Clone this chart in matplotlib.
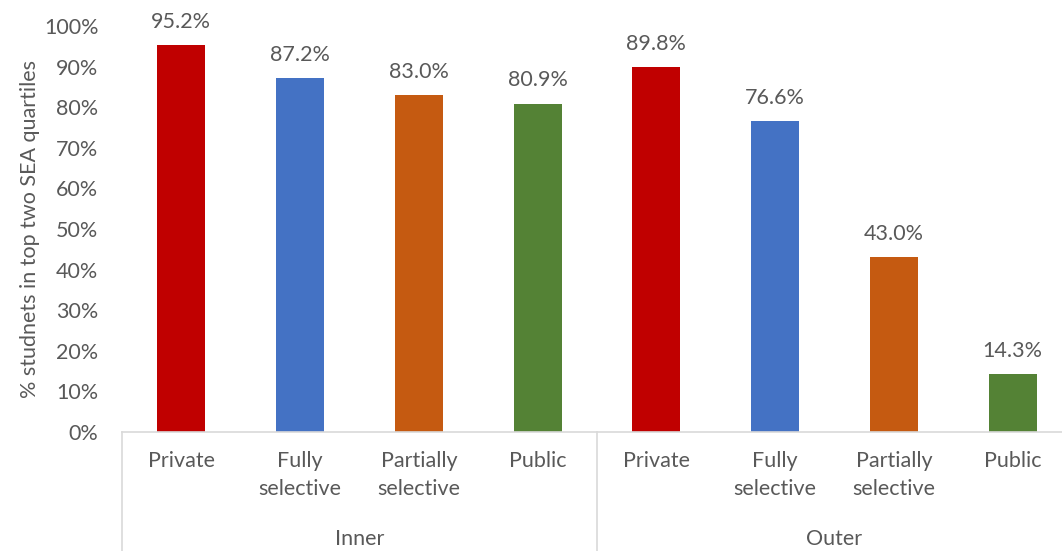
import matplotlib
matplotlib.use("Agg")
import matplotlib.pyplot as plt
from matplotlib.lines import Line2D

# data
groups = ["Inner", "Outer"]
school_types = ["Private", "Fully\nselective", "Partially\nselective", "Public"]
inner_vals = [95.2, 87.2, 83.0, 80.9]
outer_vals = [89.8, 76.6, 43.0, 14.3]
bar_colors = ["#C00000", "#4472C4", "#C55A11", "#548235"]

plt.rcParams["font.family"] = ["Lato", "DejaVu Sans"]
txt = "#595959"
fs = 15.5

W, H = 1062, 551
fig = plt.figure(figsize=(W / 100, H / 100), dpi=100)
# plot area in pixels: left 122, right 1072 (runs past the edge), top 26, bottom 432
ax = fig.add_axes([122 / W, (H - 432) / H, (1072 - 122) / W, (432 - 26) / H])

vals = inner_vals + outer_vals
cols = bar_colors * 2
xs = list(range(len(vals)))
ax.bar(xs, [v / 100 for v in vals], width=0.405, color=cols, zorder=2)
for x, v in zip(xs, vals):
    ax.text(x, v / 100 + 0.033, "%.1f%%" % v, ha="center", va="bottom",
            fontsize=fs, color=txt)

ax.set_xlim(-0.5, 7.5)
ax.set_ylim(0, 1.0)
ax.set_yticks([i / 10 for i in range(11)])
ax.set_yticklabels(["%d%%" % (i * 10) for i in range(11)])
ax.tick_params(axis="y", length=0, labelsize=fs, labelcolor=txt, pad=17)
ax.set_xticks([])
for s in ["top", "right", "left"]:
    ax.spines[s].set_visible(False)
ax.spines["bottom"].set_color("#D9D9D9")
ax.spines["bottom"].set_linewidth(1.2)

ax.set_ylabel("% studnets in top two SEA quartiles", fontsize=fs, color=txt,
              labelpad=3)

# two level category axis
trans = ax.get_xaxis_transform()
for g in range(len(groups)):
    for i, name in enumerate(school_types):
        ax.text(g * 4 + i, -0.048, name, transform=trans, ha="center", va="top",
                fontsize=fs, color=txt, linespacing=1.5)
    ax.text(g * 4 + 1.5, -0.24, groups[g], transform=trans, ha="center",
            va="top", fontsize=fs, color=txt)
for xb in [-0.5, 3.5, 7.5]:
    ax.add_line(Line2D([xb, xb], [0, -0.3], transform=trans, color="#D9D9D9",
                       lw=1.2, clip_on=False))

fig.savefig("out.png", dpi=100)
